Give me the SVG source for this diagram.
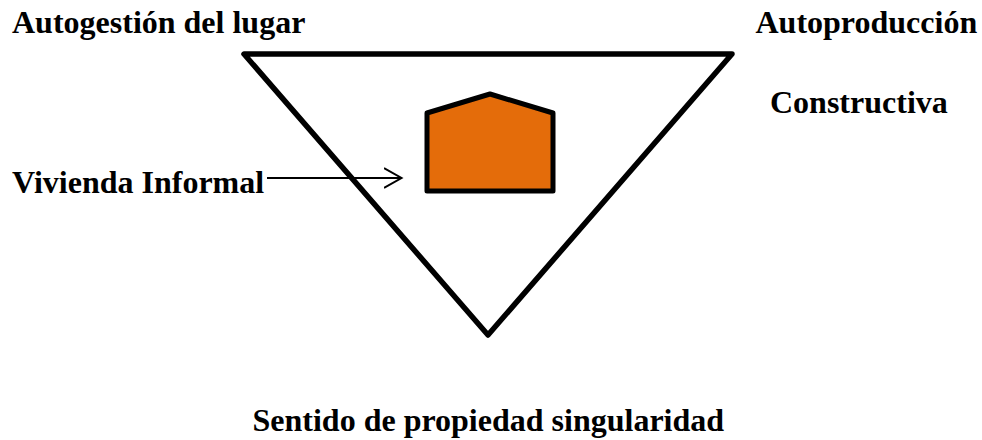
<svg xmlns="http://www.w3.org/2000/svg" width="982" height="440" viewBox="0 0 982 440">
<style>
text{font-family:"Liberation Serif","Times New Roman",serif;font-weight:bold;font-size:32px;fill:#000}
.s{stroke:#000;fill:none}
</style>
<defs><marker id="a" markerUnits="userSpaceOnUse" markerWidth="24" markerHeight="24" refX="18" refY="12" orient="auto"><path d="M0.5 2L18 12L0.5 22" fill="none" stroke="#000" stroke-width="2"/></marker></defs>
<rect width="982" height="440" fill="#fff"/>
<g id="triangle"><path class="s" stroke-width="5.5" stroke-linejoin="round" d="M244 54H732L488 335Z"/></g>
<g id="house"><path d="M427 113L490 94L553 113V191H427Z" fill="#e46c0a" stroke="#000" stroke-width="5" stroke-linejoin="round"/></g>
<g id="connectors"><path class="s" stroke-width="2" d="M267 178H401.500" marker-end="url(#a)"/></g>
<g id="l1"><text x="12" y="33">Autogestión del lugar</text></g>
<g id="l2"><text x="755.5" y="33">Autoproducción</text></g>
<g id="l3"><text x="770" y="113">Constructiva</text></g>
<g id="l4"><text x="12" y="193">Vivienda Informal</text></g>
<g id="l5"><text x="252.500" y="431">Sentido de propiedad singularidad</text></g>
</svg>
